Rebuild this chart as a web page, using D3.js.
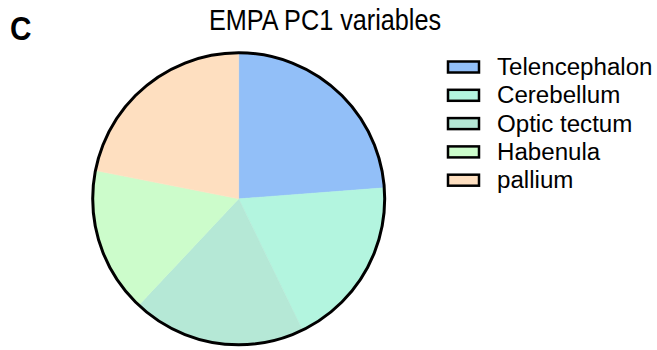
<!DOCTYPE html>
<html>
<head>
<meta charset="utf-8">
<script src="https://cdn.jsdelivr.net/npm/d3@7"></script>
<style>
  html, body { margin: 0; padding: 0; background: #fff; }
  svg { display: block; }
  text { font-family: "Liberation Sans", Arial, Helvetica, sans-serif; fill: #000; }
</style>
</head>
<body>
<svg id="chart" width="657" height="350"></svg>
<script>
// Regions contributing to EMPA PC1 (share of the pie)
const regions = ["Telencephalon", "Cerebellum", "Optic tectum", "Habenula", "pallium"];
const shares = [23.8, 19.0, 19.2, 16.1, 21.9];
const fills = ["#92bff8", "#b3f5df", "#b5e8d6", "#ccfccb", "#fedfc0"];

const svg = d3.select("#chart");
const cx = 238.7, cy = 198.8, R = 146;

const data = regions.map((name, i) => ({ name, value: shares[i], fill: fills[i] }));

const pie = d3.pie().value(d => d.value).sort(null);
const arc = d3.arc().innerRadius(0).outerRadius(R);

const g = svg.append("g").attr("transform", `translate(${cx},${cy})`);
g.selectAll("path.slice")
  .data(pie(data))
  .join("path")
  .attr("class", "slice")
  .attr("d", arc)
  .attr("fill", d => d.data.fill)
  .attr("stroke", d => d.data.fill)
  .attr("stroke-width", 0.5);

// outline around the whole pie
g.append("circle")
  .attr("r", R)
  .attr("fill", "none")
  .attr("stroke", "#000")
  .attr("stroke-width", 3);

// panel letter
svg.append("text")
  .attr("transform", "translate(10,40) scale(0.9,1)")
  .attr("font-size", 33)
  .attr("font-weight", "bold")
  .text("C");

// title
svg.append("text")
  .attr("transform", "translate(325,30) scale(0.87,1)")
  .attr("text-anchor", "middle")
  .attr("font-size", 29)
  .text("EMPA PC1 variables");

// legend
const legend = svg.append("g");
const rowY = d3.scaleLinear().domain([0, 1]).range([67, 95.3]);
const rows = legend.selectAll("g.row")
  .data(data)
  .join("g")
  .attr("class", "row")
  .attr("transform", (d, i) => `translate(0,${rowY(i)})`);

rows.append("rect")
  .attr("x", 448)
  .attr("y", -5.5)
  .attr("width", 31)
  .attr("height", 11)
  .attr("fill", d => d.fill)
  .attr("stroke", "#000")
  .attr("stroke-width", 2.5);

rows.append("text")
  .attr("transform", "translate(497,8) scale(0.985,1)")
  .attr("font-size", 24.5)
  .text(d => d.name);
</script>
</body>
</html>
